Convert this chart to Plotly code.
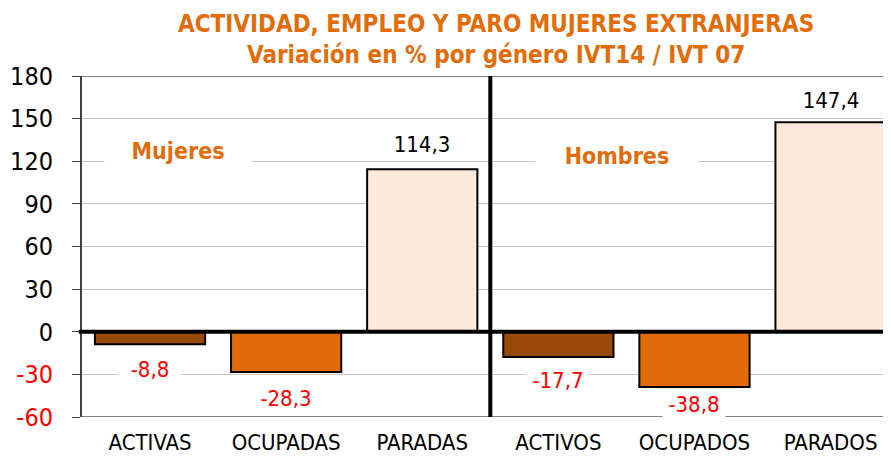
import plotly.graph_objects as go

categories = ["ACTIVAS", "OCUPADAS", "PARADAS", "ACTIVOS", "OCUPADOS", "PARADOS"]
values = [-8.8, -28.3, 114.3, -17.7, -38.8, 147.4]
value_labels = ["-8,8", "-28,3", "114,3", "-17,7", "-38,8", "147,4"]
bar_colors = ["#984807", "#E36C0A", "#FDE9D9", "#984807", "#E36C0A", "#FDE9D9"]
tick_vals = [-60, -30, 0, 30, 60, 90, 120, 150, 180]
group_names = ["Mujeres", "Hombres"]

FONT = "DejaVu Sans Condensed, DejaVu Sans, sans-serif"
ORANGE = "#E36C0A"

xs = list(range(len(categories)))

fig = go.Figure()
fig.add_trace(go.Bar(
    x=xs, y=values,
    marker=dict(color=bar_colors, line=dict(color="black", width=2)),
    width=0.81,
    hoverinfo="skip",
))

ticktext = [
    f'<span style="color:red">{v}</span>' if v < 0 else str(v) for v in tick_vals
]

label_pos = {0: -26.5, 1: -47, 2: 132, 3: -34.5, 4: -51.5, 5: 163}

annotations = []
for i, (v, t) in enumerate(zip(values, value_labels)):
    color = "black" if v > 0 else "red"
    annotations.append(dict(
        x=i, y=label_pos[i], xref="x", yref="y", text=t, showarrow=False,
        font=dict(family=FONT, size=22, color=color),
        bgcolor="white", borderpad=1, width=60,
    ))

annotations.append(dict(x=0.205, y=127, xref="x", yref="y", text=f"<b>{group_names[0]}</b>",
                        showarrow=False, font=dict(family=FONT, size=23, color=ORANGE),
                        bgcolor="white", borderpad=2, width=142))
annotations.append(dict(x=3.43, y=123.5, xref="x", yref="y", text=f"<b>{group_names[1]}</b>",
                        showarrow=False, font=dict(family=FONT, size=23, color=ORANGE),
                        bgcolor="white", borderpad=2, width=158))

annotations.append(dict(
    x=0.512, y=1, xref="paper", yref="paper", yanchor="middle", yshift=37,
    text="<b>ACTIVIDAD, EMPLEO Y PARO MUJERES EXTRANJERAS<br>Variación en % por género IVT14 / IVT 07</b>",
    showarrow=False, font=dict(family=FONT, size=24, color=ORANGE),
))

fig.update_layout(
    width=883, height=448,
    margin=dict(l=74, r=0, t=68, b=39),
    paper_bgcolor="white", plot_bgcolor="white",
    showlegend=False,
    annotations=annotations,
    shapes=[
        dict(type="line", xref="x", yref="y", x0=2.5, x1=2.5, y0=-60, y1=180,
             line=dict(color="black", width=4), layer="above"),
        dict(type="line", xref="paper", yref="y", x0=0, x1=1, y0=180, y1=180,
             line=dict(color="#808080", width=2), layer="below"),
        dict(type="line", xref="paper", yref="y", x0=0, x1=1, y0=-60, y1=-60,
             line=dict(color="#808080", width=2), layer="below"),
        dict(type="line", xref="paper", yref="y", x0=-0.004, x1=1, y0=0, y1=0,
             line=dict(color="black", width=4), layer="above"),
    ],
    xaxis=dict(
        tickmode="array", tickvals=xs, ticktext=categories,
        range=[-0.5, 5.444], showgrid=False, zeroline=False, showline=False,
        ticks="", ticklabelstandoff=10, automargin=False,
        tickfont=dict(family=FONT, size=22, color="black"),
    ),
    yaxis=dict(
        range=[-60, 180], tickmode="array", tickvals=tick_vals, ticktext=ticktext,
        showgrid=True, gridcolor="#C8C8C8", gridwidth=1, zeroline=False,
        showline=True, linecolor="#404040", linewidth=2,
        ticks="outside", ticklen=8, tickcolor="#404040",
        ticklabelstandoff=14, automargin=False,
        tickfont=dict(family=FONT, size=25, color="black"),
    ),
)

fig.write_html("out.html")
